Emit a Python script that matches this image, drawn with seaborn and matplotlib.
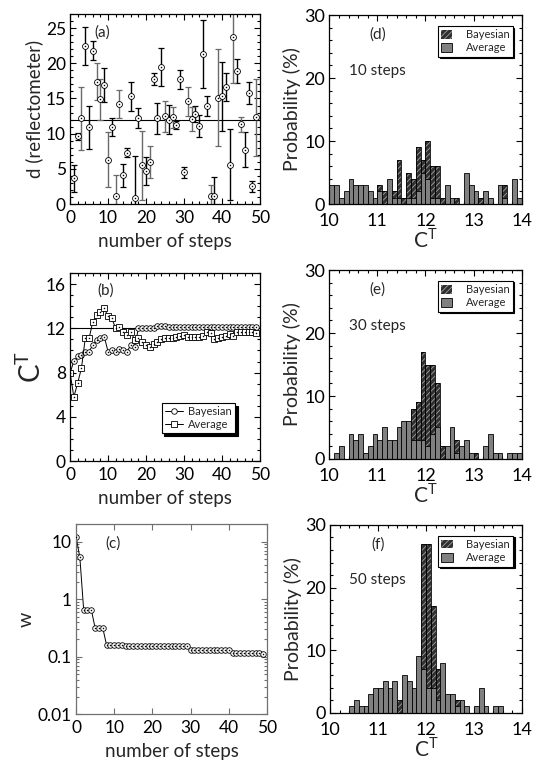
import numpy as np
import pandas as pd
import seaborn as sns
import matplotlib
matplotlib.use("Agg")
import matplotlib.pyplot as plt
from matplotlib.patches import Patch
from matplotlib.ticker import MultipleLocator, LogLocator, NullFormatter

# ---- panel (a): reflectometer readings per step ----
steps_a = list(range(1, 50))
d_vals = [3.65, 9.6, 12.2, 22.4, 10.9, 21.8, 17.4, 14.9, 16.9, 6.3,
          10.9, 1.1, 14.2, 4.1, 7.3, 15.3, 0.8, 12.2, 5.5, 4.7,
          6.0, 17.8, 12.2, 19.5, 12.5, 12.0, 12.3, 11.2, 17.7, 4.5,
          14.6, 12.1, 12.8, 11.1, 21.3, 13.9, 1.1, 1.1, 15.1, 15.3,
          16.6, 5.6, 23.7, 18.9, 11.3, 7.7, 15.8, 2.5, 12.3]
d_err = [1.9, 0.5, 4.5, 2.7, 3.1, 1.35, 2.6, 2.9, 2.4, 3.9,
         1.3, 3.0, 2.0, 1.65, 0.6, 2.1, 6.0, 1.4, 4.9, 2.0,
         2.3, 0.85, 2.2, 2.7, 2.2, 2.1, 1.5, 0.6, 1.3, 0.8,
         2.1, 1.7, 1.1, 1.6, 4.8, 1.45, 1.6, 2.7, 6.9, 4.9,
         2.0, 5.1, 6.5, 1.7, 1.1, 2.5, 1.6, 0.8, 5.5]
d_true = 12.0
# steps whose error bar is drawn in gray
gray_steps = {3, 7, 8, 10, 12, 13, 19, 21, 25, 27, 31, 32, 37, 39, 43, 45, 49}

# ---- panel (b): estimated C^T per step ----
steps_b = list(range(0, 50))
ct_bayes = [7.96, 9.04, 9.46, 9.6, 9.9, 9.9, 10.5, 10.96, 11.1, 11.25,
            9.9, 10.06, 9.85, 10.15, 10.06, 9.9, 10.5, 10.3, 12.04, 12.04,
            12.04, 12.04, 12.04, 12.2, 12.2, 12.2, 12.1, 12.1, 12.1, 12.1,
            12.1, 12.1, 12.1, 12.1, 12.1, 12.1, 12.1, 12.1, 12.1, 12.1,
            12.1, 12.1, 12.1, 12.1, 12.1, 12.1, 12.1, 12.1, 12.1, 12.1]
ct_avg = [8.0, 5.8, 7.05, 8.4, 11.1, 11.1, 12.6, 13.2, 13.45, 13.8,
          13.1, 12.9, 12.0, 12.15, 11.7, 11.4, 11.7, 10.96, 11.1, 10.8,
          10.5, 10.3, 10.6, 10.75, 11.05, 11.1, 11.1, 11.1, 11.2, 11.3,
          11.4, 11.2, 11.2, 11.2, 11.25, 11.35, 11.65, 11.55, 11.05, 11.15,
          11.25, 11.35, 11.45, 11.35, 11.65, 11.7, 11.7, 11.65, 11.7, 11.6]
ct_true = 12.0

# ---- panel (c): width w per step ----
steps_c = list(range(0, 50))
w_vals = [12.2, 5.35, 0.66, 0.66, 0.66, 0.317, 0.317, 0.317, 0.16, 0.16,
          0.16, 0.16, 0.16, 0.155, 0.155, 0.155, 0.155, 0.155, 0.155, 0.155,
          0.155, 0.155, 0.155, 0.155, 0.155, 0.155, 0.155, 0.155, 0.155, 0.155,
          0.13, 0.13, 0.13, 0.13, 0.13, 0.13, 0.13, 0.13, 0.13, 0.13,
          0.13, 0.115, 0.115, 0.115, 0.115, 0.115, 0.115, 0.115, 0.115, 0.11]

# ---- panels (d)-(f): histograms, bins of 0.1 from 10 to 14 ----
ct_edges = [round(10.0 + 0.1 * i, 2) for i in range(41)]
ct_centers = [round(e + 0.05, 3) for e in ct_edges[:-1]]
d_bayes = [0, 0, 0, 0, 0, 0, 0, 0, 0, 0,
           3, 2, 0, 2, 7, 1, 5, 4, 9, 7,
           10, 6, 6, 1, 0, 0, 1, 0, 0, 0,
           0, 1, 0, 0, 0, 0, 3, 0, 0, 0]
d_avg = [3, 3, 1, 2, 4, 3, 3, 3, 2, 1,
         2, 0, 4, 1, 1, 0, 1, 1, 2, 5,
         4, 1, 1, 0, 3, 1, 0, 0, 5, 3,
         2, 0, 2, 1, 0, 3, 1, 0, 4, 1]
e_bayes = [0, 0, 0, 0, 0, 0, 0, 0, 0, 0,
           0, 0, 0, 0, 0, 0, 0, 8, 9, 17,
           15, 15, 12, 2, 0, 0, 3, 0, 0, 0,
           1, 0, 0, 0, 0, 0, 0, 0, 0, 0]
e_avg = [0, 1, 2, 0, 4, 3, 4, 1, 2, 4,
         3, 5, 3, 3, 5, 6, 6, 3, 3, 3,
         2, 4, 5, 0, 2, 5, 1, 2, 3, 1,
         0, 0, 2, 4, 1, 1, 0, 1, 1, 1]
f_bayes = [0, 0, 0, 0, 0, 0, 0, 0, 0, 0,
           0, 0, 0, 0, 2, 0, 0, 0, 0, 27,
           27, 17, 7, 0, 0, 0, 2, 0, 0, 0,
           0, 0, 0, 0, 0, 0, 0, 0, 0, 0]
f_avg = [0, 0, 0, 0, 1, 2, 1, 1, 3, 4,
         4, 5, 4, 5, 0, 6, 5, 4, 9, 7,
         4, 4, 2, 8, 3, 3, 1, 2, 1, 0,
         1, 4, 1, 0, 1, 1, 0, 0, 0, 0]

sns.set_theme(style="ticks")
plt.rcParams['font.family'] = ['Lato', 'DejaVu Sans']
plt.rcParams['hatch.linewidth'] = 0.6
plt.rcParams['axes.linewidth'] = 0.9

LABEL = 13.5
BAYES_FACE = '#303030'
BAYES_HATCH = '#a0a0a0'
AVG_FACE = '#808080'


def style_axes(ax, color='black', size=12.5, xpad=4):
    ax.tick_params(which='both', direction='in', top=True, right=True,
                   width=0.8, colors=color, labelcolor='black',
                   labelsize=size, pad=3)
    ax.tick_params(axis='x', which='both', pad=xpad)
    ax.tick_params(which='major', length=4)
    ax.tick_params(which='minor', length=2)
    for sp in ax.spines.values():
        sp.set_visible(True)
        sp.set_color(color)


def dotted_markers(ax, x, y, marker, size):
    sns.scatterplot(x=x, y=y, marker=marker, s=size, facecolor='white',
                    edgecolor='black', linewidth=0.6, ax=ax, zorder=3,
                    legend=False)
    sns.scatterplot(x=x, y=y, marker='o', s=1.2, color='black',
                    linewidth=0, ax=ax, zorder=4, legend=False)


def histogram(ax, bayes, avg, tag, steps_text):
    df = pd.DataFrame({'ct': ct_centers, 'bayes': bayes, 'avg': avg})
    sns.histplot(data=df, x='ct', weights='bayes', bins=ct_edges, ax=ax,
                 color=BAYES_FACE, edgecolor=BAYES_HATCH, linewidth=0,
                 hatch='//////', alpha=1)
    sns.histplot(data=df, x='ct', weights='bayes', bins=ct_edges, ax=ax,
                 fill=False, color='black', linewidth=0.6)
    sns.histplot(data=df, x='ct', weights='avg', bins=ct_edges, ax=ax,
                 color=AVG_FACE, edgecolor='black', linewidth=0.6, alpha=1)
    ax.set_xlim(10, 14)
    ax.set_ylim(0, 30)
    ax.xaxis.set_major_locator(MultipleLocator(1))
    ax.xaxis.set_minor_locator(MultipleLocator(0.2))
    ax.yaxis.set_major_locator(MultipleLocator(10))
    ax.yaxis.set_minor_locator(MultipleLocator(2))
    style_axes(ax, size=13, xpad=6.5)
    ax.set_xlabel(r'C$^{\mathregular{T}}$', fontsize=15, labelpad=-1)
    ax.set_ylabel('Probability (%)', fontsize=14, labelpad=2)
    ax.text(0.25, 0.895, tag, transform=ax.transAxes, fontsize=11,
            ha='center', va='center')
    ax.text(0.1, 0.705, steps_text, transform=ax.transAxes, fontsize=11,
            ha='left', va='center')
    handles = [Patch(facecolor=BAYES_FACE, edgecolor=BAYES_HATCH,
                     hatch='//////', linewidth=0),
               Patch(facecolor=AVG_FACE, edgecolor='black', linewidth=0.6)]
    leg = ax.legend(handles, ['Bayesian', 'Average'], loc='upper right',
                    bbox_to_anchor=(0.965, 0.955), fontsize=8,
                    frameon=True, fancybox=False, handlelength=1.0,
                    handleheight=0.8, borderpad=0.3, labelspacing=0.2,
                    handletextpad=1.2, borderaxespad=0.2,
                    shadow={'color': 'black', 'alpha': 1, 'ox': 1.2, 'oy': -1.2})
    leg.get_frame().set_edgecolor('black')
    leg.get_frame().set_linewidth(0.8)


fig = plt.figure(figsize=(5.43, 7.71), dpi=100)
ax_a = fig.add_axes([0.129, 0.7354, 0.350, 0.2464])
ax_b = fig.add_axes([0.129, 0.402, 0.350, 0.2438])
ax_c = fig.add_axes([0.140, 0.0735, 0.3517, 0.2464])
ax_d = fig.add_axes([0.6064, 0.7354, 0.3543, 0.245])
ax_e = fig.add_axes([0.6064, 0.4047, 0.3543, 0.245])
ax_f = fig.add_axes([0.6077, 0.0756, 0.3535, 0.2435])

# (a)
ax = ax_a
ax.axhline(d_true, color='black', linewidth=0.8, zorder=1)
for group, col in ((False, 'black'), (True, '#6a6a6a')):
    xs = [s for s in steps_a if (s in gray_steps) == group]
    ys = [d_vals[s - 1] for s in xs]
    es = [d_err[s - 1] for s in xs]
    ax.errorbar(xs, ys, yerr=es, fmt='none', ecolor=col, elinewidth=1.0,
                capsize=2.0, capthick=0.9, zorder=2)
dotted_markers(ax, steps_a, d_vals, 'o', 18)
ax.set_xlim(0, 50)
ax.set_ylim(0, 27)
ax.xaxis.set_major_locator(MultipleLocator(10))
ax.xaxis.set_minor_locator(MultipleLocator(2))
ax.yaxis.set_major_locator(MultipleLocator(5))
ax.yaxis.set_minor_locator(MultipleLocator(1))
style_axes(ax)
ax.set_xlabel('number of steps', fontsize=LABEL, labelpad=5)
ax.set_ylabel('d (reflectometer)', fontsize=LABEL, labelpad=2)
ax.text(0.17, 0.9, '(a)', transform=ax.transAxes, fontsize=11,
        ha='center', va='center')

# (b)
ax = ax_b
ax.axhline(ct_true, color='black', linewidth=0.8, zorder=1)
sns.lineplot(x=steps_b, y=ct_bayes, color='black', linewidth=0.7, ax=ax,
             marker='o', markersize=4, markerfacecolor='white',
             markeredgecolor='black', markeredgewidth=0.6, label='Bayesian')
sns.lineplot(x=steps_b, y=ct_avg, color='black', linewidth=0.7, ax=ax,
             marker='s', markersize=4, markerfacecolor='white',
             markeredgecolor='black', markeredgewidth=0.6, label='Average')
sns.scatterplot(x=steps_b + steps_b, y=ct_bayes + ct_avg, marker='o', s=1.2,
                color='black', linewidth=0, ax=ax, zorder=4, legend=False)
ax.set_xlim(0, 50)
ax.set_ylim(0, 17)
ax.xaxis.set_major_locator(MultipleLocator(10))
ax.xaxis.set_minor_locator(MultipleLocator(2))
ax.yaxis.set_major_locator(MultipleLocator(4))
ax.yaxis.set_minor_locator(MultipleLocator(1))
style_axes(ax)
ax.set_xlabel('number of steps', fontsize=LABEL, labelpad=5)
ax.set_ylabel(r'C$^{\mathregular{T}}$', fontsize=20, labelpad=0)
ax.text(0.19, 0.905, '(b)', transform=ax.transAxes, fontsize=11,
        ha='center', va='center')
leg = ax.legend(loc='upper right', bbox_to_anchor=(0.87, 0.31), fontsize=8,
                frameon=True, fancybox=False, handlelength=1.6,
                borderpad=0.3, labelspacing=0.15, handletextpad=0.5,
                borderaxespad=0.0,
                shadow={'color': 'black', 'alpha': 1, 'ox': 2, 'oy': -2})
leg.get_frame().set_edgecolor('black')
leg.get_frame().set_linewidth(0.8)

# (c)
ax = ax_c
sns.lineplot(x=steps_c, y=w_vals, color='black', linewidth=0.7, ax=ax,
             marker='o', markersize=4, markerfacecolor='white',
             markeredgecolor='black', markeredgewidth=0.6)
sns.scatterplot(x=steps_c, y=w_vals, marker='o', s=1.2, color='black',
                linewidth=0, ax=ax, zorder=4, legend=False)
ax.set_yscale('log')
ax.set_xlim(0, 50)
ax.set_ylim(0.01, 20)
ax.xaxis.set_major_locator(MultipleLocator(10))
ax.set_yticks([0.01, 0.1, 1, 10])
ax.set_yticklabels(['0.01', '0.1', '1', '10'])
ax.yaxis.set_minor_locator(LogLocator(base=10, subs=np.arange(2, 10)))
ax.yaxis.set_minor_formatter(NullFormatter())
style_axes(ax, color='#707070')
ax.set_xlabel('number of steps', fontsize=LABEL, labelpad=5)
ax.set_ylabel('w', fontsize=14, labelpad=2)
ax.text(0.195, 0.9, '(c)', transform=ax.transAxes, fontsize=11,
        ha='center', va='center')

# (d)-(f)
histogram(ax_d, d_bayes, d_avg, '(d)', '10 steps')
histogram(ax_e, e_bayes, e_avg, '(e)', '30 steps')
histogram(ax_f, f_bayes, f_avg, '(f)', '50 steps')

fig.savefig('out.png', dpi=100)
